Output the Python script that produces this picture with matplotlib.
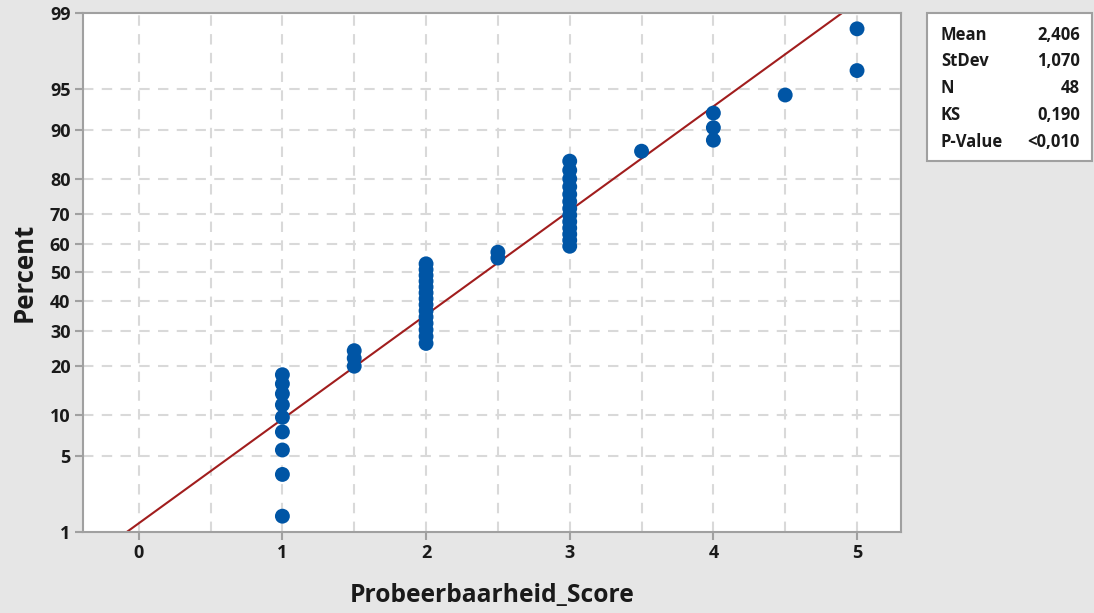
import numpy as np
import matplotlib
matplotlib.use("Agg")
import matplotlib.pyplot as plt
from matplotlib.patches import Rectangle
from statistics import NormalDist

# ---- data ----
score_values = [1.0, 1.5, 2.0, 2.5, 3.0, 3.5, 4.0, 4.5, 5.0]
score_counts = [9, 3, 14, 2, 13, 1, 3, 1, 2]
y_ticks = [1, 5, 10, 20, 30, 40, 50, 60, 70, 80, 90, 95, 99]
x_ticks = [0, 1, 2, 3, 4, 5]
x_grid = [0, 0.5, 1, 1.5, 2, 2.5, 3, 3.5, 4, 4.5, 5]
stat_labels = ["Mean", "StDev", "N", "KS", "P-Value"]
stat_values = ["2,406", "1,070", "48", "0,190", "<0,010"]

data = np.repeat(score_values, score_counts)
n = len(data)
mean = data.mean()
sd = data.std(ddof=1)
ranks = np.arange(1, n + 1)
pct = (ranks - 0.3) / (n + 0.4) * 100  # median ranks

_nd = NormalDist()
_ppf = np.vectorize(lambda p: _nd.inv_cdf(p), otypes=[float])
_cdf = np.vectorize(lambda z: _nd.cdf(z), otypes=[float])


def fwd(p):
    p = np.clip(np.asarray(p, dtype=float) / 100.0, 1e-9, 1 - 1e-9)
    return _ppf(p)


def inv(z):
    return _cdf(np.asarray(z, dtype=float)) * 100.0


FONT = "Open Sans"
BG = "#e6e6e6"
SPINE = "#a0a0a0"
GRID = "#d9d9d9"
TXT = "#1a1a1a"

fig = plt.figure(figsize=(10.94, 6.13), dpi=100, facecolor=BG)
ax = fig.add_axes([83 / 1094, (613 - 532) / 613, (901 - 83) / 1094, (532 - 13) / 613])
ax.set_facecolor("white")
ax.set_yscale("function", functions=(fwd, inv))
ax.set_ylim(1, 99)
ax.set_xlim(-0.388, 5.306)

for gx in x_grid:
    ax.axvline(gx, color=GRID, lw=1.5, ls=(0, (5, 4)), zorder=0)
for gy in y_ticks[1:-1]:
    ax.axhline(gy, color=GRID, lw=1.5, ls=(0, (5, 4)), zorder=0)

# fitted normal line
p_line = np.array([1.0, 99.0])
x_line = mean + sd * fwd(p_line)
ax.plot(x_line, p_line, color="#a11d1d", lw=1.5, zorder=2, clip_on=True)

ax.scatter(data, pct, s=115, color="#0055a5", edgecolors="none", zorder=3, clip_on=False)

ax.set_yticks(y_ticks)
ax.set_yticklabels([str(t) for t in y_ticks])
ax.yaxis.set_minor_locator(matplotlib.ticker.NullLocator())
ax.set_xticks(x_ticks)
ax.set_xticklabels([str(t) for t in x_ticks])

for s in ax.spines.values():
    s.set_color(SPINE)
    s.set_linewidth(1.5)
ax.tick_params(axis="both", direction="out", length=6, width=1.5, color=SPINE,
               labelcolor=TXT, labelsize=13, pad=3)
for lab in ax.get_xticklabels() + ax.get_yticklabels():
    lab.set_fontfamily(FONT)
    lab.set_fontweight("bold")

ax.set_xlabel("Probeerbaarheid_Score", fontsize=17.7, fontweight="bold",
              family=FONT, color=TXT, labelpad=15)
ax.set_ylabel("Percent", fontsize=18.5, fontweight="bold",
              family=FONT, color=TXT, labelpad=9)

# stats box
W, H = 1094, 613
box = Rectangle((927 / W, 1 - 161 / H), (1092 - 927) / W, (161 - 13) / H,
                transform=fig.transFigure, facecolor="white", edgecolor=SPINE, lw=1.5)
fig.patches.append(box)
rows_y = [35, 61, 88, 115, 142]
for lbl, val, yy in zip(stat_labels, stat_values, rows_y):
    fig.text(941 / W, 1 - yy / H, lbl, ha="left", va="center", fontsize=12,
             family=FONT, fontweight="bold", color=TXT)
    fig.text(1080 / W, 1 - yy / H, val, ha="right", va="center", fontsize=12,
             family=FONT, fontweight="bold", color=TXT)

fig.savefig("out.png", dpi=100, facecolor=BG)
